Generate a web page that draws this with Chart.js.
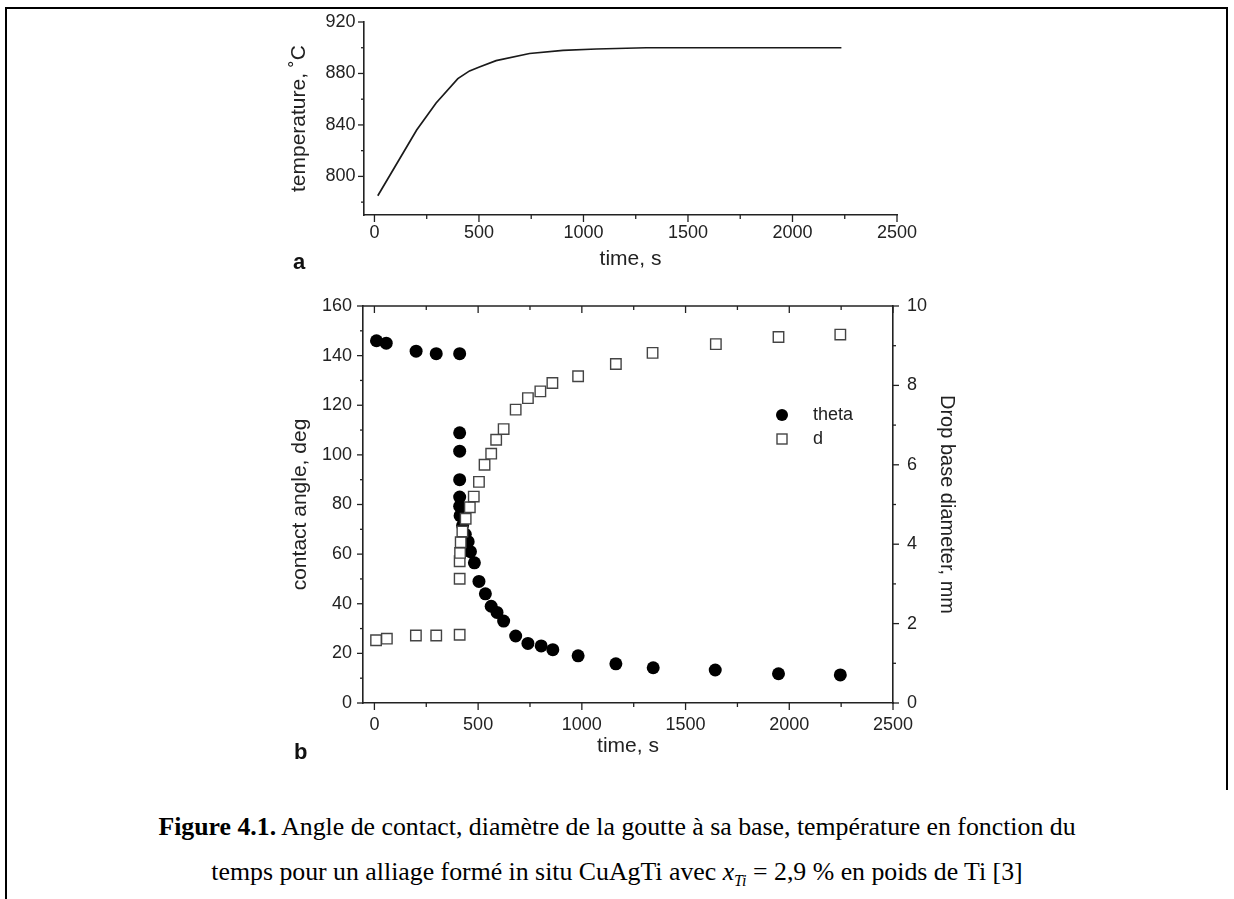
<!DOCTYPE html>
<html><head><meta charset="utf-8">
<script src="https://cdn.jsdelivr.net/npm/chart.js@4.4.0/dist/chart.umd.min.js"></script>
<style>
html,body{margin:0;padding:0;background:#fff;}
body{width:1234px;height:899px;position:relative;overflow:hidden;font-family:"Liberation Sans",Arial,sans-serif;}
#c1{position:absolute;left:0;top:0;}
#c2{position:absolute;left:0;top:270px;}
.fl{position:absolute;background:#000;}
.panel{position:absolute;font-weight:bold;font-size:22px;line-height:24px;color:#111;font-family:"Liberation Sans",Arial,sans-serif;}
.caption{position:absolute;left:0;width:1234px;text-align:center;font-family:"Liberation Serif","Times New Roman",serif;font-size:25.8px;line-height:28px;color:#000;white-space:nowrap;}
</style></head>
<body>
<div class="fl" style="left:5px;top:7px;width:1223px;height:2px;"></div>
<div class="fl" style="left:5px;top:7px;width:2px;height:892px;"></div>
<div class="fl" style="left:1226px;top:7px;width:2px;height:783px;"></div>
<canvas id="c1" width="1234" height="290"></canvas>
<canvas id="c2" width="1234" height="520"></canvas>
<div class="panel" style="left:293px;top:250px;">a</div>
<div class="panel" style="left:294px;top:740px;">b</div>
<div class="caption" style="top:813px;"><b>Figure 4.1.</b> Angle de contact, diamètre de la goutte à sa base, température en fonction du</div>
<div class="caption" style="top:858px;">temps pour un alliage formé in situ CuAgTi avec <i>x</i><sub style="font-size:16px;"><i>Ti</i></sub> = 2,9 % en poids de Ti [3]</div>
<script>
// ---- data: panel a (temperature) ----
const tempTime  = [16, 202, 295, 399, 455, 502, 582, 742, 902, 1062, 1300, 2234];
const tempValue = [785, 836, 857, 876, 882, 885, 890, 895.5, 898, 899, 900, 900];

// ---- data: panel b ----
const thetaTime  = [10, 57, 201, 298, 411, 411, 411, 411, 411, 411, 413, 425, 438, 452, 463, 482, 504, 535, 563, 591, 623, 681, 740, 804, 860, 982, 1164, 1344, 1643, 1948, 2246];
const thetaValue = [146, 145, 141.8, 140.8, 140.8, 108.9, 101.5, 90, 83, 79.3, 75.5, 71.5, 68, 65, 61, 56.5, 49, 44, 39, 36.5, 33, 27, 24, 23, 21.5, 19, 15.8, 14.2, 13.3, 11.8, 11.3];
const dTime  = [8, 60, 200, 298, 411, 411, 411, 413, 416, 424, 440, 460, 479, 504, 531, 563, 587, 623, 681, 740, 800, 858, 982, 1164, 1341, 1646, 1948, 2246];
const dValue = [1.58, 1.62, 1.70, 1.70, 1.72, 3.13, 3.57, 3.78, 4.05, 4.32, 4.64, 4.93, 5.2, 5.57, 6.0, 6.28, 6.63, 6.9, 7.39, 7.68, 7.85, 8.06, 8.23, 8.54, 8.82, 9.04, 9.22, 9.28];

// ---- ticks ----
const timeTicks = [0, 500, 1000, 1500, 2000, 2500];
const timeMinor = [250, 750, 1250, 1750, 2250];
const tempTicks = [800, 840, 880, 920];
const tempMinor = [780, 820, 860, 900];
const angleTicks = [0, 20, 40, 60, 80, 100, 120, 140, 160];
const angleMinor = [10, 30, 50, 70, 90, 110, 130, 150];
const diamTicks = [0, 2, 4, 6, 8, 10];
const diamMinor = [1, 3, 5, 7, 9];

const FONT = '"Liberation Sans", Arial, Helvetica, sans-serif';
const INK = '#222';
const toPts = (xs, ys) => xs.map((x, i) => ({x: x, y: ys[i]}));
const setTicks = arr => s => { s.ticks = arr.map(v => ({value: v})); };

// plugin: tick marks (major/minor), frame line, legend
const marks = {
  id: 'marks',
  afterDraw(chart, args, o) {
    const ctx = chart.ctx, a = chart.chartArea;
    ctx.save();
    ctx.strokeStyle = INK;
    ctx.lineWidth = 1.3;
    (o.specs || []).forEach(sp => {
      const sc = chart.scales[sp.scale];
      sp.values.forEach(v => {
        const p = sc.getPixelForValue(v);
        ctx.beginPath();
        if (sp.edge === 'bottom') { ctx.moveTo(p, a.bottom); ctx.lineTo(p, a.bottom + sp.len); }
        else if (sp.edge === 'top') { ctx.moveTo(p, a.top); ctx.lineTo(p, a.top + sp.len); }
        else if (sp.edge === 'left') { ctx.moveTo(a.left, p); ctx.lineTo(a.left - sp.len, p); }
        else if (sp.edge === 'right') { ctx.moveTo(a.right, p); ctx.lineTo(a.right + sp.len, p); }
        ctx.stroke();
      });
    });
    if (o.topLine) {
      ctx.lineWidth = 1.6;
      ctx.beginPath(); ctx.moveTo(a.left, a.top); ctx.lineTo(a.right, a.top); ctx.stroke();
    }
    if (o.legend) {
      const L = o.legend;
      ctx.fillStyle = '#000';
      ctx.beginPath(); ctx.arc(L.x, L.y, 6, 0, Math.PI * 2); ctx.fill();
      ctx.strokeStyle = '#444'; ctx.lineWidth = 1.4;
      ctx.fillStyle = '#fff';
      ctx.fillRect(L.x - 5, L.y + L.gap - 5, 10, 10);
      ctx.strokeRect(L.x - 5, L.y + L.gap - 5, 10, 10);
      ctx.fillStyle = INK;
      ctx.font = '18px ' + FONT;
      ctx.textBaseline = 'middle';
      ctx.textAlign = 'left';
      ctx.fillText(L.labels[0], L.tx, L.y);
      ctx.fillText(L.labels[1], L.tx, L.y + L.gap);
    }
    ctx.restore();
  }
};

const tickFont = {size: 18, family: FONT};
const titleFont = {size: 21, family: FONT};
const titleFontR = {size: 20, family: FONT};
const border = {display: true, color: INK, width: 1.6};
const noGrid = {display: false, drawTicks: false, tickLength: 0};

// ---- chart a ----
new Chart(document.getElementById('c1'), {
  type: 'scatter',
  data: {datasets: [{
    label: 'temperature',
    data: toPts(tempTime, tempValue),
    showLine: true, pointRadius: 0, borderColor: '#1a1a1a', borderWidth: 1.7, tension: 0
  }]},
  options: {
    responsive: false, animation: false, events: [],
    layout: {padding: {left: 280, right: 337, top: 22, bottom: 0}},
    plugins: {legend: {display: false}, tooltip: {enabled: false},
      marks: {specs: [
        {scale: 'x', edge: 'bottom', values: timeTicks, len: 7},
        {scale: 'x', edge: 'bottom', values: timeMinor, len: 4},
        {scale: 'y', edge: 'left', values: tempTicks, len: 6},
        {scale: 'y', edge: 'left', values: tempMinor, len: 3}
      ]}},
    scales: {
      x: {type: 'linear', min: -50, max: 2500, afterBuildTicks: setTicks(timeTicks),
        afterFit: s => { s.height = 75; },
        grid: noGrid, border: border,
        ticks: {padding: 7.5, font: tickFont, color: INK, callback: v => String(v)},
        title: {display: true, text: 'time, s', font: titleFont, color: INK, padding: {top: 0, bottom: 18.4}}},
      y: {type: 'linear', min: 770, max: 920, afterBuildTicks: setTicks(tempTicks),
        afterFit: s => { s.width = 84; },
        grid: noGrid, border: border,
        ticks: {padding: 8.5, font: tickFont, color: INK, callback: v => String(v)},
        title: {display: true, text: 'temperature, ˚C', font: titleFont, color: INK, padding: {top: 6.4, bottom: 0}}}
    }
  },
  plugins: [marks]
});

// ---- chart b ----
new Chart(document.getElementById('c2'), {
  type: 'scatter',
  data: {datasets: [
    {label: 'd', data: toPts(dTime, dValue), yAxisID: 'y2', order: 0,
      pointStyle: 'rect', pointRadius: 7.4, borderColor: '#444', borderWidth: 1.4, backgroundColor: '#fff'},
    {label: 'theta', data: toPts(thetaTime, thetaValue), yAxisID: 'y', order: 1,
      pointStyle: 'circle', pointRadius: 6.5, borderWidth: 0, backgroundColor: '#000', borderColor: '#000'}
  ]},
  options: {
    responsive: false, animation: false, events: [],
    layout: {padding: {left: 280, right: 271, top: 36, bottom: 0}},
    plugins: {legend: {display: false}, tooltip: {enabled: false},
      marks: {topLine: true,
        legend: {x: 782, y: 145, gap: 24, tx: 813, labels: ['theta', 'd']},
        specs: [
          {scale: 'x', edge: 'bottom', values: timeTicks, len: 7},
          {scale: 'x', edge: 'bottom', values: timeMinor, len: 4},
          {scale: 'x', edge: 'top', values: timeTicks, len: 7},
          {scale: 'x', edge: 'top', values: timeMinor, len: 4},
          {scale: 'y', edge: 'left', values: angleTicks, len: 6},
          {scale: 'y', edge: 'left', values: angleMinor, len: 3},
          {scale: 'y2', edge: 'right', values: diamTicks, len: 6},
          {scale: 'y2', edge: 'right', values: diamMinor, len: 3}
        ]}},
    scales: {
      x: {type: 'linear', min: -55, max: 2500, afterBuildTicks: setTicks(timeTicks),
        afterFit: s => { s.height = 87; },
        grid: noGrid, border: border,
        ticks: {padding: 11.5, font: tickFont, color: INK, callback: v => String(v)},
        title: {display: true, text: 'time, s', font: titleFont, color: INK, padding: {top: 0, bottom: 31.4}}},
      y: {type: 'linear', position: 'left', min: 0, max: 160, afterBuildTicks: setTicks(angleTicks),
        afterFit: s => { s.width = 83; },
        grid: noGrid, border: border,
        ticks: {padding: 11, font: tickFont, color: INK, callback: v => String(v)},
        title: {display: true, text: 'contact angle, deg', font: titleFont, color: INK, padding: {top: 7.4, bottom: 0}}},
      y2: {type: 'linear', position: 'right', min: 0, max: 10, afterBuildTicks: setTicks(diamTicks),
        afterFit: s => { s.width = 70; },
        grid: noGrid, border: border,
        ticks: {padding: 14, font: tickFont, color: INK, callback: v => String(v)},
        title: {display: true, text: 'Drop base diameter, mm', font: titleFontR, color: INK, padding: {top: 4, bottom: 0}}}
    }
  },
  plugins: [marks]
});
</script>
</body></html>
